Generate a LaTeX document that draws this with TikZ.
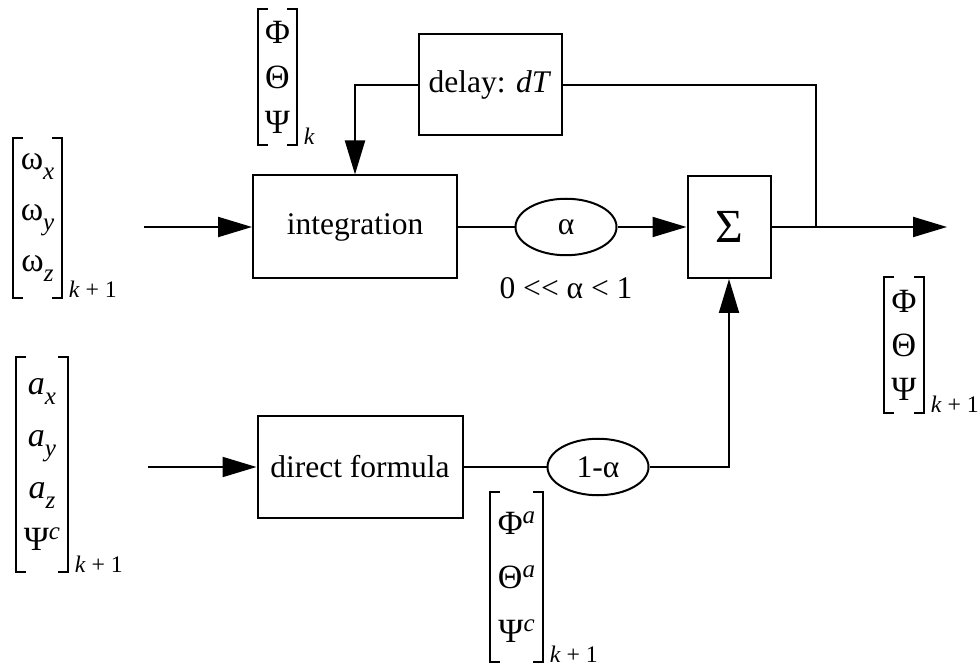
\documentclass[tikz,border=0pt]{standalone}
\usepackage{fontspec}
\setmainfont{Liberation Serif}
\usepackage{tikz}
\usetikzlibrary{positioning,arrows.meta,shapes.geometric}

\newcommand\lo[1]{\raisebox{-4pt}{\fontsize{10}{10}\selectfont\itshape #1}}
\newcommand\hi[1]{\raisebox{4.5pt}{\fontsize{10}{10}\selectfont\itshape #1}}
\newcommand\vecbrackets[1]{%
	\draw[bracketline] ([xshift=4pt]#1.north west) -| (#1.south west) -- ++(4pt,0);
	\draw[bracketline] ([xshift=-4pt]#1.north east) -| (#1.south east) -- ++(-4pt,0);
}

\begin{document}
\begin{tikzpicture}[
		x=0.4pt, y=-0.4pt,
		every node/.style={font=\fontsize{12.6}{15}\selectfont},
		blockbox/.style={
			draw,
			line width=0.8pt,
			align=center,
			inner sep=0pt
		},
		gainbox/.style={
			draw,
			ellipse,
			line width=0.8pt,
			minimum width=40.4pt,
			minimum height=22.6pt,
			inner sep=0pt
		},
		vec/.style={
			align=center,
			inner sep=0pt,
			outer sep=0pt,
			font=\fontsize{13.6}{15}\selectfont
		},
		idx/.style={
			anchor=base west,
			xshift=2.5pt,
			inner sep=0pt,
			font=\fontsize{9.5}{10}\selectfont
		},
		bracketline/.style={line width=0.8pt},
		line/.style={line width=0.8pt},
		arrow/.style={-{Triangle[length=13.6pt,width=8pt]}, line width=0.8pt}
	]
		\useasboundingbox (0,0) rectangle (978,664);

		\node[blockbox, minimum width=81.6pt, minimum height=41.2pt] (integ) at (355,227) {integration};
		\node[blockbox, minimum width=57.2pt, minimum height=40.4pt] (delay) at (490,85) {delay: \textit{dT}};
		\node[gainbox] (alpha) at (566,227) {α};
		\node[below=8.5pt of alpha, inner sep=0pt] (range) {0 <{}< α < 1};
		\node[blockbox, minimum width=33.2pt, minimum height=40.8pt,
			font=\fontsize{19}{20}\selectfont] (sum) at (729,227) {Σ};
		\node[blockbox, minimum width=82pt, minimum height=40.8pt] (direct) at (360,467) {direct formula};
		\node[gainbox] (onem) at (598,467) {1-α};

		\coordinate (win) at (144,227);
		\coordinate (ain) at (148,467);
		\coordinate (tap) at (816,227);
		\coordinate (wout) at (947,227);

		\node[vec, minimum width=19.6pt, minimum height=64pt] (omvec) at (37.5,218)
			{ω\lo{x}\\[5.4pt] ω\lo{y}\\[5.4pt] ω\lo{z}};
		\node[vec, minimum width=20.8pt, minimum height=86pt] (accvec) at (42,464.5)
			{\textit{a}\lo{x}\\[5.8pt] \textit{a}\lo{y}\\[5.8pt] \textit{a}\lo{z}\\[5.8pt] Ψ\hi{c}};
		\node[vec, minimum width=15.6pt, minimum height=54.4pt] (angk) at (277.5,77)
			{Φ\\[3pt] Θ\\[3pt] Ψ};
		\node[vec, minimum width=16pt, minimum height=54.4pt] (angout) at (904,345)
			{Φ\\[2.6pt] Θ\\[2.6pt] Ψ};
		\node[vec, minimum width=21.2pt, minimum height=68pt] (angacc) at (516.5,577)
			{Φ\hi{a}\\[6.6pt] Θ\hi{a}\\[6.6pt] Ψ\hi{c}};

		\vecbrackets{omvec}
		\vecbrackets{accvec}
		\vecbrackets{angk}
		\vecbrackets{angout}
		\vecbrackets{angacc}

		\node[idx] (omidx) at (omvec.south east) {\textit{k} + 1};
		\node[idx] (accidx) at (accvec.south east) {\textit{k} + 1};
		\node[idx] (angkidx) at (angk.south east) {\textit{k}};
		\node[idx] (angoutidx) at (angout.south east) {\textit{k} + 1};
		\node[idx] (angaccidx) at (angacc.south east) {\textit{k} + 1};

		\draw[arrow] (win) -- (integ);
		\draw[line] (integ) -- (alpha);
		\draw[arrow] (alpha) -- (sum);
		\draw[line] (sum) -- (tap);
		\draw[arrow] (tap) -- (wout);
		\draw[line] (delay) -| (tap);
		\draw[arrow] (delay) -| (integ);
		\draw[arrow] (ain) -- (direct);
		\draw[line] (direct) -- (onem);
		\draw[arrow] (onem) -| (sum);
	\end{tikzpicture}
\end{document}
